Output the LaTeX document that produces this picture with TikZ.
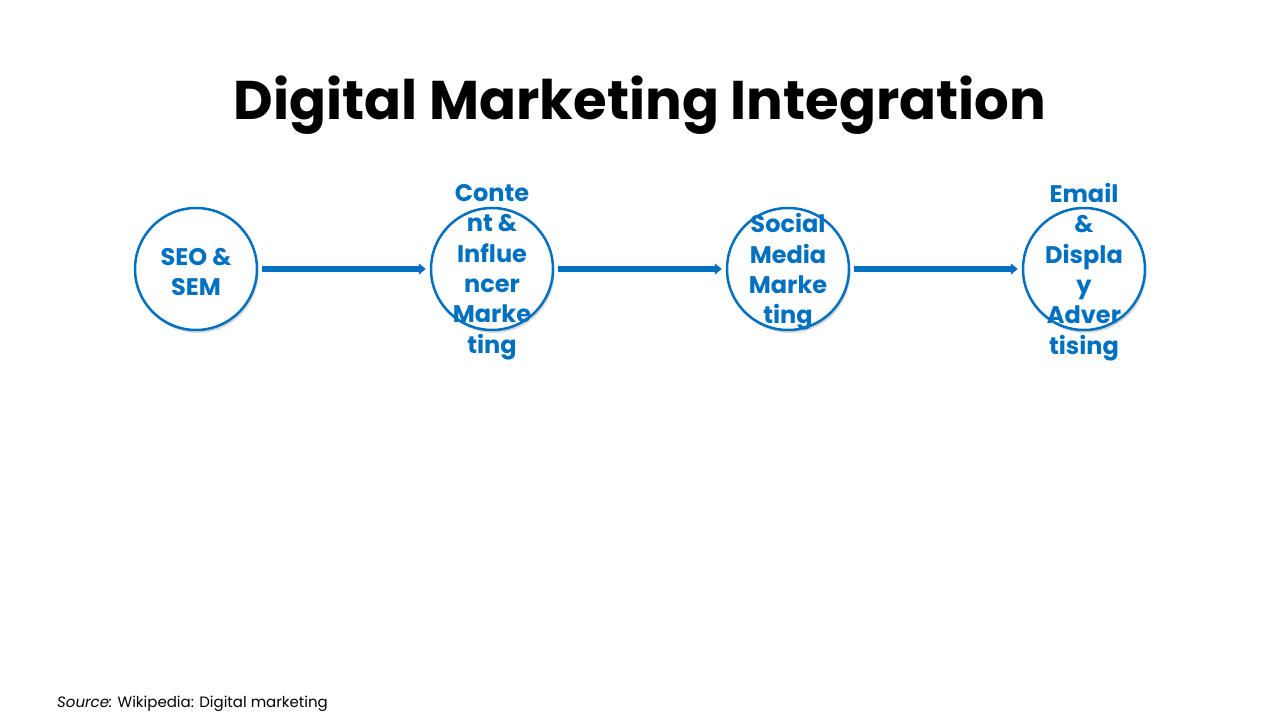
\documentclass[tikz,border=0pt]{standalone}
\usepackage{fontspec}
\setmainfont{Poppins}
\usepackage{tikz}
\usetikzlibrary{positioning,chains,arrows.meta,shadows}
\definecolor{stageblue}{HTML}{0070C0}
\tikzset{
	>={Triangle[length=7pt,width=11pt]},
	stage/.style={
		circle,
		draw=stageblue, line width=2.5pt,
		fill=white,
		minimum size=122pt,
		inner sep=0pt,
		drop shadow={opacity=0.3, shadow xshift=1.5pt, shadow yshift=-3pt},
		on chain},
	stagetext/.style={
		text=stageblue,
		font=\fontsize{24}{30.4}\selectfont\bfseries,
		align=center,
		inner sep=0pt, yshift=-3pt},
	title/.style={font=\fontsize{54.5}{60}\selectfont\bfseries, inner sep=0pt},
	source/.style={font=\fontsize{15}{18}\selectfont, inner sep=0pt},
	every join/.style={->, draw=stageblue, line width=5.5pt, shorten >=4pt, shorten <=4pt},
}
\begin{document}
\begin{tikzpicture}
			[x=1pt, y=-1pt,
			node distance=171.5pt,
			start chain=going right,]
			\useasboundingbox (0,0) rectangle (1280,720);
			\node[title] (T) at (640,105) {Digital Marketing Integration};
			\node[stage] (S1) at (196,269) {};
			\node[stage, join] (S2) {};
			\node[stage, join] (S3) {};
			\node[stage, join] (S4) {};
			\node[stagetext] (L1) at (S1) {SEO \&\\SEM};
			\node[stagetext] (L2) at (S2) {Conte\\nt \&\\Influe\\ncer\\Marke\\ting};
			\node[stagetext] (L3) at (S3) {Social\\Media\\Marke\\ting};
			\node[stagetext] (L4) at (S4) {Email\\\&\\Displa\\y\\Adver\\tising};
			\node[source, anchor=base west] (src) at (57,707) {\textit{Source:} Wikipedia: Digital marketing};
			\end{tikzpicture}
\end{document}
